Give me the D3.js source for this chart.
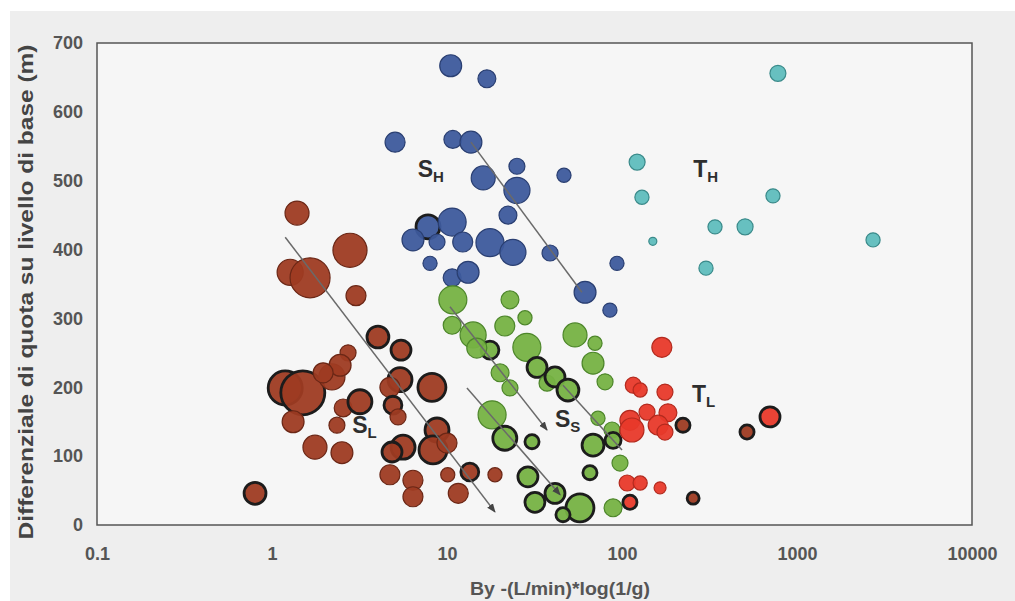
<!DOCTYPE html>
<html>
<head>
<meta charset="utf-8">
<script src="https://cdnjs.cloudflare.com/ajax/libs/d3/7.8.5/d3.min.js"></script>
<style>
  html, body { margin: 0; padding: 0; background: #fff; }
  svg { display: block; }
</style>
</head>
<body>
<div id="chart"></div>
<script>

  /**************************************************
   * Data  [x, y, weight, outlined]                 *
   **************************************************/

  var xTicks = [0.1, 1, 10, 100, 1000, 10000];
  var yTicks = [0, 100, 200, 300, 400, 500, 600, 700];

  var seriesSL = [
    [1.39, 453, 72, 0], [2.79, 399, 145, 0], [1.27, 367, 85, 0], [1.65, 359, 200, 0],
    [3.02, 333, 50, 0], [4.03, 273, 60, 1], [5.46, 254, 50, 1], [2.72, 250, 32, 0],
    [1.19, 199, 145, 1], [1.50, 192, 242, 1], [2.20, 215, 85, 0], [2.45, 232, 60, 0],
    [1.96, 221, 50, 0], [1.32, 150, 60, 0], [2.55, 170, 40, 0], [3.18, 179, 72, 1],
    [2.35, 145, 32, 0], [1.76, 113, 72, 0], [2.51, 105, 60, 0], [0.80, 46, 60, 1],
    [5.39, 211, 72, 1], [4.72, 200, 50, 0], [4.91, 174, 40, 1], [5.25, 157, 32, 0],
    [8.2, 200, 98, 1], [8.77, 138, 72, 1], [8.32, 109, 98, 1], [10.0, 119, 50, 0],
    [5.61, 113, 72, 1], [4.85, 106, 50, 1], [4.72, 73, 50, 0], [6.39, 65, 50, 0],
    [6.39, 41, 50, 0], [10.1, 73, 25, 0], [13.5, 77, 40, 1], [11.6, 46, 50, 0],
    [18.8, 73, 25, 0], [223, 145, 25, 1], [518, 135, 25, 1], [255, 39, 18, 1]
  ];

  var seriesSH = [
    [10.5, 667, 60, 0], [16.9, 648, 40, 0], [5.05, 556, 50, 0], [10.8, 560, 40, 0],
    [13.7, 556, 60, 0], [25.1, 521, 32, 0], [16.1, 504, 72, 0], [25.1, 486, 85, 0],
    [46.6, 508, 25, 0], [22.3, 450, 40, 0], [7.79, 433, 72, 1], [10.7, 440, 98, 0],
    [6.39, 414, 60, 0], [8.77, 411, 32, 0], [12.3, 411, 50, 0], [17.6, 410, 98, 0],
    [23.8, 396, 85, 0], [38.8, 395, 32, 0], [8.0, 380, 25, 0], [10.7, 359, 40, 0],
    [13.2, 367, 60, 0], [61.5, 338, 60, 0], [85.3, 312, 25, 0], [93.6, 380, 25, 0]
  ];

  var seriesSS = [
    [10.8, 327, 98, 0], [22.9, 327, 40, 0], [10.7, 290, 40, 0], [14.1, 276, 85, 0],
    [21.4, 289, 50, 0], [27.9, 301, 25, 0], [28.6, 258, 98, 0], [53.9, 276, 72, 0],
    [70.1, 264, 25, 0], [17.6, 254, 40, 1], [14.8, 257, 50, 0], [20.1, 221, 40, 0],
    [22.9, 199, 32, 0], [32.7, 229, 50, 1], [37.3, 206, 32, 0], [41.4, 215, 50, 1],
    [49.1, 196, 60, 1], [68.3, 235, 60, 0], [80.0, 208, 32, 0], [18.1, 160, 98, 0],
    [21.4, 126, 72, 1], [30.6, 121, 25, 1], [68.3, 116, 60, 1], [72.9, 155, 25, 0],
    [87.7, 138, 32, 0], [88.9, 123, 32, 1], [97.4, 90, 32, 0], [29.0, 70, 50, 1],
    [65.6, 76, 25, 1], [41.4, 46, 50, 1], [31.8, 33, 50, 1], [57.5, 25, 98, 1],
    [46.0, 15, 25, 1], [88.9, 25, 40, 0]
  ];

  var seriesTL = [
    [169, 258, 50, 0], [116, 203, 32, 0], [127, 196, 25, 0], [176, 193, 32, 0],
    [139, 164, 32, 0], [183, 163, 40, 0], [111, 152, 50, 0], [114, 138, 72, 0],
    [161, 145, 50, 0], [176, 135, 32, 0], [701, 157, 50, 1], [107, 61, 32, 0],
    [127, 61, 25, 0], [165, 54, 18, 0], [111, 33, 25, 1]
  ];

  var seriesTH = [
    [778, 656, 32, 0], [729, 478, 25, 0], [340, 433, 25, 0], [505, 433, 32, 0],
    [2720, 414, 25, 0], [302, 373, 25, 0], [122, 527, 32, 0], [130, 476, 25, 0],
    [150, 412, 8, 0]
  ];

  // trend arrows: [x1, y1, x2, y2, head]
  var trends = [
    [1.19, 418, 18.8, 19, 1],
    [13.7, 556, 59, 338, 0],
    [10.4, 317, 37.3, 138, 1],
    [13.0, 199, 44.3, 44, 1],
    [46.0, 203, 100, 109, 0]
  ];

  // group labels: [main, sub, x, y]
  var groupLabels = [
    ['S', 'H', 6.8, 505],
    ['T', 'H', 255, 505],
    ['S', 'L', 2.87, 134],
    ['S', 'S', 41.4, 142],
    ['T', 'L', 251, 179]
  ];

  /**************************************************
   * Layout                                         *
   **************************************************/

  var width = 1015,
    height = 601,
    plot = { left: 97, top: 43, right: 972, bottom: 525 },
    font = 'Liberation Sans, Arial, sans-serif';

  var styles = {
    SL: { fill: '#9e3b22', stroke: '#6b2716' },
    SH: { fill: '#3d5a9c', stroke: '#2a3f72' },
    SS: { fill: '#76b243', stroke: '#4d862a' },
    TL: { fill: '#e8392a', stroke: '#b32a1e' },
    TH: { fill: '#5fbdbd', stroke: '#3a8a8a' }
  };

  var svg = d3.select('#chart').append('svg')
    .attr('width', width)
    .attr('height', height);

  var x = d3.scaleLog().domain([0.1, 10000]).range([plot.left, plot.right]);
  var y = d3.scaleLinear().domain([0, 700]).range([plot.bottom, plot.top]);
  var r = d3.scaleSqrt().domain([0, 242]).range([0, 22]);

  // scanned page background
  svg.append('rect').attr('width', width).attr('height', height).attr('fill', '#ffffff');
  svg.append('rect')
    .attr('x', 10).attr('y', 11)
    .attr('width', width - 10).attr('height', height - 11)
    .attr('fill', '#eeeeee');

  svg.append('rect')
    .attr('x', plot.left).attr('y', plot.top)
    .attr('width', plot.right - plot.left)
    .attr('height', plot.bottom - plot.top)
    .attr('fill', '#f6f6f6');

  var defs = svg.append('defs');
  defs.append('marker')
    .attr('id', 'arrow')
    .attr('viewBox', '0 0 10 10')
    .attr('refX', 9).attr('refY', 5)
    .attr('markerWidth', 6).attr('markerHeight', 6)
    .attr('orient', 'auto')
    .append('path')
    .attr('d', 'M0,1 L10,5 L0,9 Z')
    .attr('fill', '#444');

  /**************************************************
   * Bubbles                                        *
   **************************************************/

  function drawSeries(data, style) {
    svg.append('g').selectAll('circle')
      .data(data)
      .enter().append('circle')
      .attr('cx', function(d) { return x(d[0]); })
      .attr('cy', function(d) { return y(d[1]); })
      .attr('r', function(d) { return r(d[2]); })
      .attr('fill', style.fill)
      .attr('stroke', function(d) { return d[3] ? '#1c1c1c' : style.stroke; })
      .attr('stroke-width', function(d) { return d[3] ? 2.8 : 1.2; })
      .attr('fill-opacity', 0.95);
  }

  drawSeries(seriesSL, styles.SL);
  drawSeries(seriesSH, styles.SH);
  drawSeries(seriesSS, styles.SS);
  drawSeries(seriesTL, styles.TL);
  drawSeries(seriesTH, styles.TH);

  // trend arrows on top
  svg.append('g').selectAll('line')
    .data(trends)
    .enter().append('line')
    .attr('x1', function(d) { return x(d[0]); })
    .attr('y1', function(d) { return y(d[1]); })
    .attr('x2', function(d) { return x(d[2]); })
    .attr('y2', function(d) { return y(d[3]); })
    .attr('stroke', '#6a6a6a')
    .attr('stroke-width', 1.5)
    .attr('marker-end', function(d) { return d[4] ? 'url(#arrow)' : null; });

  // group labels
  var lbl = svg.append('g').selectAll('text')
    .data(groupLabels)
    .enter().append('text')
    .attr('x', function(d) { return x(d[2]); })
    .attr('y', function(d) { return y(d[3]); })
    .attr('font-family', font)
    .attr('font-size', 23)
    .attr('font-weight', 'bold')
    .attr('fill', '#2e2e2e');
  lbl.append('tspan').text(function(d) { return d[0]; });
  lbl.append('tspan')
    .attr('dy', 5)
    .attr('font-size', 15)
    .text(function(d) { return d[1]; });

  /**************************************************
   * Axes                                           *
   **************************************************/

  svg.append('rect')
    .attr('x', plot.left).attr('y', plot.top)
    .attr('width', plot.right - plot.left)
    .attr('height', plot.bottom - plot.top)
    .attr('fill', 'none')
    .attr('stroke', '#555')
    .attr('stroke-width', 1.5);

  var xAxis = svg.append('g')
    .attr('transform', 'translate(0,' + plot.bottom + ')')
    .call(d3.axisBottom(x).tickValues(xTicks).tickSize(0).tickPadding(22)
      .tickFormat(function(d) { return String(d); }));

  var yAxis = svg.append('g')
    .attr('transform', 'translate(' + plot.left + ',0)')
    .call(d3.axisLeft(y).tickValues(yTicks).tickSize(0).tickPadding(14));

  [xAxis, yAxis].forEach(function(a) {
    a.select('.domain').remove();
    a.selectAll('text')
      .attr('font-family', font)
      .attr('font-size', 18)
      .attr('font-weight', 'bold')
      .attr('fill', '#555');
  });

  svg.append('text')
    .attr('x', 560).attr('y', 595)
    .attr('text-anchor', 'middle')
    .attr('font-family', font)
    .attr('font-size', 18)
    .attr('font-weight', 'bold')
    .attr('fill', '#555')
    .attr('textLength', 180)
    .attr('lengthAdjust', 'spacingAndGlyphs')
    .text('By -(L/min)*log(1/g)');

  svg.append('text')
    .attr('transform', 'translate(33,292) rotate(-90)')
    .attr('text-anchor', 'middle')
    .attr('font-family', font)
    .attr('font-size', 20)
    .attr('font-weight', 'bold')
    .attr('fill', '#444')
    .attr('textLength', 495)
    .attr('lengthAdjust', 'spacingAndGlyphs')
    .text('Differenziale di quota su livello di base (m)');

</script>
</body>
</html>
